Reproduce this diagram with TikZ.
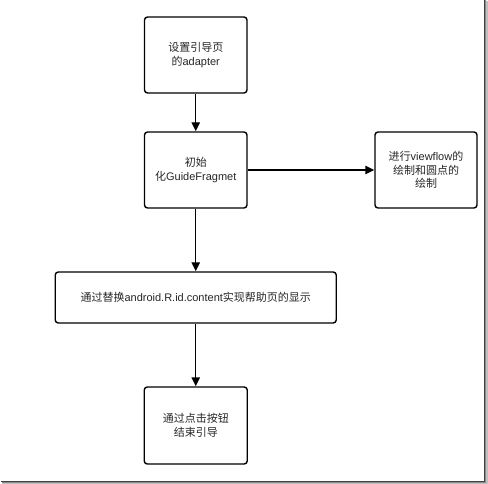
\documentclass[tikz,border=0pt]{standalone}
\usepackage{fontspec}
\setmainfont{Liberation Sans}
\newfontfamily\cjk{Noto Sans CJK SC}
\newcommand\zh[1]{{\cjk #1}}
\usetikzlibrary{arrows.meta}
\begin{document}
\begin{tikzpicture}[x=1pt,y=-1pt,
  box/.style={draw=black, line width=1.4pt, rounded corners=3pt, inner sep=0pt,
    align=center, font=\fontsize{11}{13.5}\selectfont, text=black!85},
  arr/.style={line width=1.4pt, -{Triangle[length=9pt,width=8.5pt]}}]
\useasboundingbox (0,0) rectangle (488,484);
\fill[white] (0,0) rectangle (488,484);
% frame shadow
\draw[line width=1.2pt, black!25] (487,1) -- (487,484) -- (2,484);
\draw[line width=1.2pt, black!45] (485.8,0.5) -- (485.8,482.8) -- (1.5,482.8);
\draw[line width=1.2pt, black!75] (484.5,0) -- (484.5,481.5) -- (1,481.5);
% boxes
\node[box, minimum width=102.5pt, minimum height=76pt] (b1) at (195.75,55) {\zh{设置引导页}\\\zh{的}adapter};
\node[box, minimum width=102.5pt, minimum height=76pt] (b2) at (195.75,170) {\zh{初始}\\\zh{化}GuideFragmet};
\node[box, minimum width=102pt, minimum height=76pt] (b3) at (426,170) {\zh{进行}viewflow\zh{的}\\\zh{绘制和圆点的}\\\zh{绘制}};
\node[box, minimum width=281pt, minimum height=51pt] (b4) at (195.75,297.5) {\zh{通过替换}android.R.id.content\zh{实现帮助页的显示}};
\node[box, minimum width=103pt, minimum height=77pt] (b5) at (195.75,425.5) {\zh{通过点击按钮}\\\zh{结束引导}};
% connectors
\draw[arr] (b1) -- (b2);
\draw[arr] (b2) -- (b3);
\draw[arr] (b2) -- (b4);
\draw[arr] (b4) -- (b5);
\end{tikzpicture}
\end{document}
